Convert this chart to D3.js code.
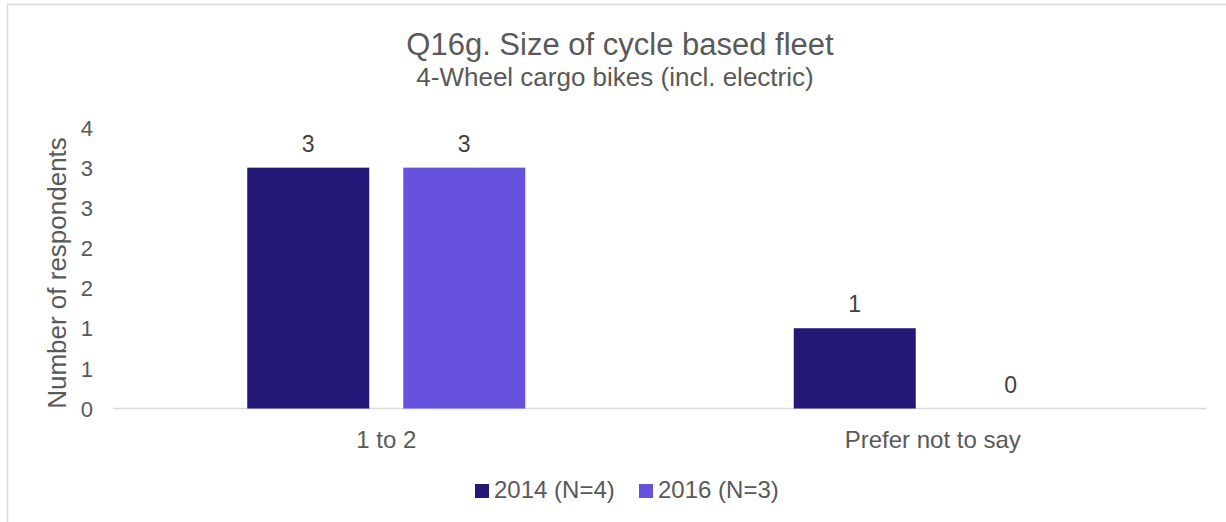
<!DOCTYPE html>
<html><head><meta charset="utf-8">
<script src="https://cdn.jsdelivr.net/npm/d3@7"></script>
<style>body{margin:0;background:#fff;} svg{display:block;font-family:"Liberation Sans",Arial,sans-serif;}</style>
</head><body>
<svg id="c" width="1226" height="522"></svg>
<script>
const categories = ["1 to 2", "Prefer not to say"];
const seriesNames = ["2014 (N=4)", "2016 (N=3)"];
const values2014 = [3, 1];
const values2016 = [3, 0];
const dataLabels2014 = ["3", "1"];
const dataLabels2016 = ["3", "0"];
const yTickValues = [0, 0.5, 1, 1.5, 2, 2.5, 3, 3.5];
const yTickLabels = ["0", "1", "1", "2", "2", "3", "3", "4"];
const colors = ["#241878", "#6652DC"];

const svg = d3.select("#c");
const text = "#595959";
const ff = "Liberation Sans, Arial, sans-serif";
// frame
svg.append("rect").attr("x", 7.5).attr("y", 4.5).attr("width", 1240).attr("height", 540)
  .attr("fill", "none").attr("stroke", "#d9d9d9").attr("stroke-width", 1.5);

const m = {left: 113, right: 1206, top: 127.5, bottom: 408.5};
const x = d3.scaleBand().domain(categories).range([m.left, m.right]).paddingInner(0).paddingOuter(0);
const y = d3.scaleLinear().domain([0, 3.5]).range([m.bottom, m.top]);
const barW = 122, gap = 34;
const series = [
  {name: seriesNames[0], vals: values2014, labels: dataLabels2014, color: colors[0]},
  {name: seriesNames[1], vals: values2016, labels: dataLabels2016, color: colors[1]}
];
const x1 = d3.scaleBand().domain([0, 1]).range([0, barW * 2 + gap]).paddingInner(gap / (barW + gap));

// axis baseline
svg.append("line").attr("x1", m.left).attr("x2", m.right).attr("y1", m.bottom).attr("y2", m.bottom)
  .attr("stroke", "#d9d9d9").attr("stroke-width", 1.5);

series.forEach((s, si) => {
  categories.forEach((c, ci) => {
    const gx = x(c) + (x.bandwidth() - (barW * 2 + gap)) / 2 + x1(si);
    const v = s.vals[ci];
    if (v > 0) {
      svg.append("rect").attr("x", gx).attr("y", y(v)).attr("width", x1.bandwidth())
        .attr("height", y(0) - y(v)).attr("fill", s.color);
    }
    svg.append("text").attr("x", gx + x1.bandwidth() / 2).attr("y", y(v) - 16)
      .attr("text-anchor", "middle").attr("font-size", 23).attr("fill", "#404040").text(s.labels[ci]);
  });
});

// y axis
const yAxis = d3.axisLeft(y).tickValues(yTickValues).tickSize(0).tickPadding(0)
  .tickFormat((d, i) => yTickLabels[i]);
const gy = svg.append("g").attr("transform", `translate(93,0)`).call(yAxis);
gy.select(".domain").remove();
gy.selectAll("text").attr("font-size", 22).attr("fill", text).attr("font-family", ff).attr("dy", "0.35em");

// x axis
const xAxis = d3.axisBottom(x).tickSize(0).tickPadding(0);
const gx = svg.append("g").attr("transform", `translate(0,${m.bottom})`).call(xAxis);
gx.select(".domain").remove();
gx.selectAll("text").attr("font-size", 24).attr("fill", text).attr("font-family", ff).attr("dy", null).attr("y", 39);

// axis title
svg.append("text").attr("transform", `translate(66,273) rotate(-90)`).attr("text-anchor", "middle")
  .attr("font-size", 26).attr("fill", text).text("Number of respondents");

// titles
svg.append("text").attr("x", 620).attr("y", 55).attr("text-anchor", "middle")
  .attr("font-size", 31).attr("fill", text).text("Q16g. Size of cycle based fleet");
svg.append("text").attr("x", 615).attr("y", 86).attr("text-anchor", "middle")
  .attr("font-size", 26).attr("fill", text).text("4-Wheel cargo bikes (incl. electric)");

// legend
const legX = [475, 639];
series.forEach((s, i) => {
  svg.append("rect").attr("x", legX[i]).attr("y", 484).attr("width", 14).attr("height", 14).attr("fill", s.color);
  svg.append("text").attr("x", legX[i] + 19).attr("y", 498).attr("font-size", 24).attr("fill", text).text(s.name);
});
</script>
</body></html>
